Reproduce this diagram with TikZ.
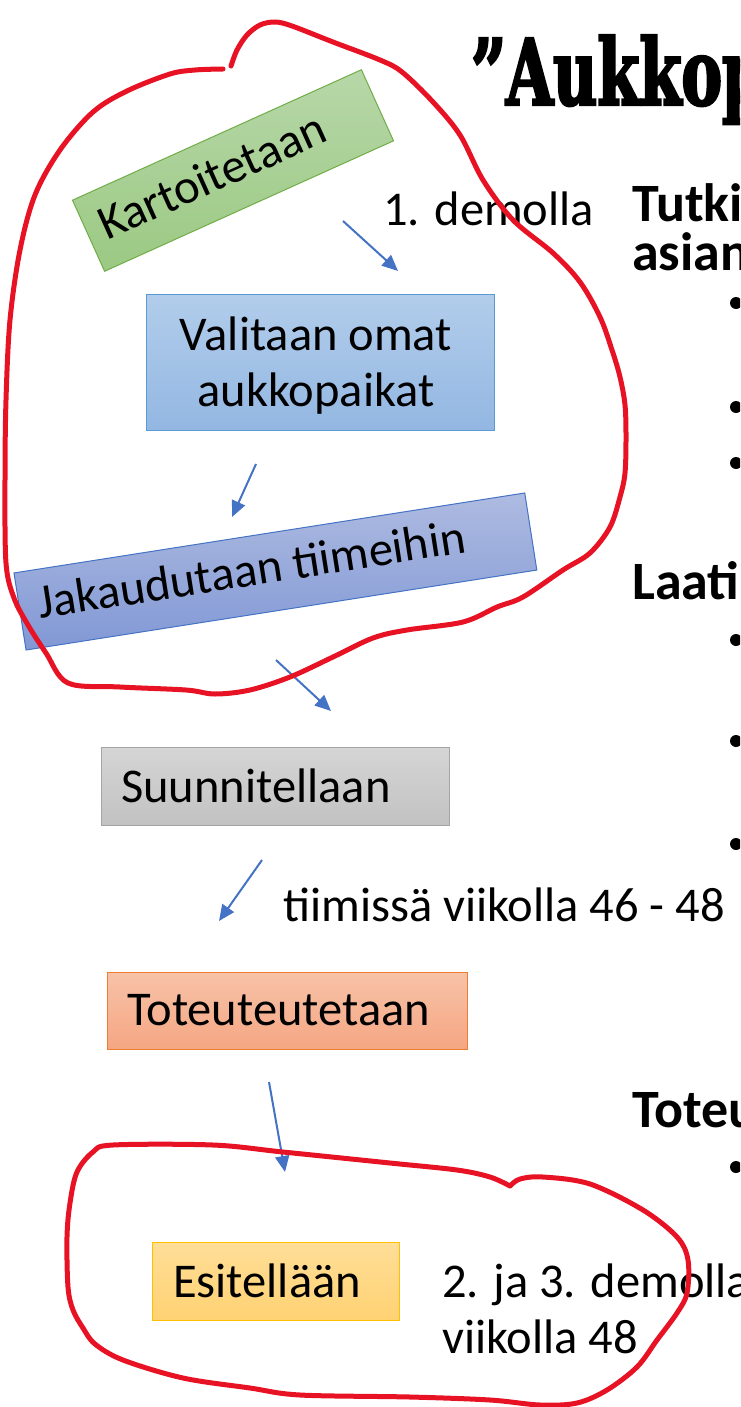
\documentclass[tikz,border=0pt]{standalone}
\usepackage{fontspec}
\setmainfont{Carlito}
\newfontfamily\titlefont{DejaVu Serif}[FakeStretch=0.66,FakeBold=2.5]
\usetikzlibrary{arrows.meta}
\definecolor{inkred}{HTML}{E71224}
\definecolor{arrowblue}{HTML}{4472C4}
\definecolor{gtop}{HTML}{B7D7A8}\definecolor{gbot}{HTML}{9BC983}\definecolor{gline}{HTML}{70AD47}
\definecolor{btop}{HTML}{B2CDEB}\definecolor{bbot}{HTML}{93B7E2}\definecolor{bline}{HTML}{5B9BD5}
\definecolor{ptop}{HTML}{AEBBE1}\definecolor{pbot}{HTML}{8198D5}\definecolor{pline}{HTML}{4472C4}
\definecolor{ktop}{HTML}{D5D5D5}\definecolor{kbot}{HTML}{C2C2C2}\definecolor{kline}{HTML}{A5A5A5}
\definecolor{otop}{HTML}{F7C3A9}\definecolor{obot}{HTML}{F5A682}\definecolor{oline}{HTML}{ED7D31}
\definecolor{ytop}{HTML}{FFDE98}\definecolor{ybot}{HTML}{FFD273}\definecolor{yline}{HTML}{FFC000}
\begin{document}
\begin{tikzpicture}[x=1pt,y=-1pt,
  redink/.style={draw=inkred, line width=5pt, line cap=round, line join=round},
  flow/.style={draw=arrowblue, line width=2pt, -{Triangle[length=16pt,width=14pt]}},
  stepbox/.style={line width=1pt, inner sep=0pt},
  txt/.style={inner sep=0pt, font=\fontsize{48.5}{56}\selectfont},
  headtxt/.style={inner sep=0pt, font=\bfseries\fontsize{54}{40}\selectfont},
  bulletdot/.style={circle, fill=black, inner sep=0pt, minimum size=12pt}
]
\useasboundingbox (0,0) rectangle (740,1407);
\clip (0,0) rectangle (740,1407);

% title and right-side fragments
\node[anchor=base west, inner sep=0pt, font=\titlefont\bfseries\fontsize{92}{100}\selectfont] (title) at (471,105) {”Aukkop};
\node[headtxt, anchor=base west] (h1) at (632,221) {\begin{tabular}[t]{@{}l@{}}Tutki\\asian\end{tabular}};
\node[headtxt, anchor=base west] (h2) at (632,599) {Laati};
\node[headtxt, anchor=base west] (h3) at (632,1127) {Toteu};
\node[bulletdot] (d1) at (736,303) {};
\node[bulletdot] (d2) at (736,407) {};
\node[bulletdot] (d3) at (736,463) {};
\node[bulletdot] (d4) at (736,640) {};
\node[bulletdot] (d5) at (736,741) {};
\node[bulletdot] (d6) at (736,844) {};
\node[bulletdot] (d7) at (736,1167) {};

% boxes
\node[stepbox, draw=gline, top color=gtop, bottom color=gbot, minimum width=317pt, minimum height=78pt, rotate=24.3] (kart) at (233,170.5) {};
\node[txt, rotate=24.3, anchor=base west] (kartT) at (107,241) {Kartoitetaan};

\node[stepbox, draw=bline, top color=btop, bottom color=bbot, minimum width=348pt, minimum height=136pt] (vali) at (320,362) {};
\node[txt, anchor=base] (valiT) at (316,350) {\begin{tabular}[t]{@{}c@{}}Valitaan omat\\aukkopaikat\end{tabular}};

\node[stepbox, draw=pline, top color=ptop, bottom color=pbot, minimum width=517pt, minimum height=78pt, rotate=8.9] (jaka) at (275.4,571.5) {};
\node[txt, rotate=8.9, anchor=base west] (jakaT) at (40,619) {Jakaudutaan tiimeihin};

\node[stepbox, draw=kline, top color=ktop, bottom color=kbot, minimum width=348pt, minimum height=78pt] (suun) at (275,786) {};
\node[txt, anchor=base west] (suunT) at (121,802) {Suunnitellaan};

\node[stepbox, draw=oline, top color=otop, bottom color=obot, minimum width=360pt, minimum height=77pt] (tote) at (287,1010.5) {};
\node[txt, anchor=base west] (toteT) at (127,1025) {Toteuteutetaan};

\node[stepbox, draw=yline, top color=ytop, bottom color=ybot, minimum width=247pt, minimum height=78pt] (esit) at (275.5,1281) {};
\node[txt, anchor=base west] (esitT) at (173,1297) {Esitellään};

% free labels
\node[txt, anchor=base west] (l1) at (383,225) {1. demolla};
\node[txt, anchor=base west] (l2) at (283,921) {tiimissä viikolla 46 - 48};
\node[txt, anchor=base west] (l3) at (442,1297) {\begin{tabular}[t]{@{}l@{}}2. ja 3. demolla\\viikolla 48\end{tabular}};

% arrows
\coordinate (a1s) at (343,221); \coordinate (a1e) at (398,271);
\coordinate (a2s) at (256,464); \coordinate (a2e) at (232,517);
\coordinate (a3s) at (276,660); \coordinate (a3e) at (331,711);
\coordinate (a4s) at (262,860); \coordinate (a4e) at (219,921);
\coordinate (a5s) at (269,1082); \coordinate (a5e) at (285,1172);
\draw[flow] (a1s) -- (a1e);
\draw[flow] (a2s) -- (a2e);
\draw[flow] (a3s) -- (a3e);
\draw[flow] (a4s) -- (a4e);
\draw[flow] (a5s) -- (a5e);

% red freehand loops
\draw[redink] plot[smooth, tension=0.55] coordinates {
 (231,66) (237,50) (247,35) (260,25) (275,22) (292,26) (333,42) (380,60) (402,72)
 (433,102) (460,135) (483,180) (513,220) (553,253) (580,282) (600,317) (612,350)
 (620,377) (625,405) (626,437) (625,473) (620,497) (610,527) (590,553) (563,570)
 (523,597) (497,607) (463,622) (407,630) (373,638) (333,657) (290,677) (250,690)
 (215,694) (186,690) (120,687) (68,683) (46,653) (28,625) (14,598) (6,563) (5,480)
 (6,400) (10,320) (20,250) (35,195) (60,150) (93,112) (127,91) (170,74) (195,70) (223,69)};
\draw[redink] plot[smooth, tension=0.55] coordinates {
 (510,1186) (490,1177) (457,1170) (390,1163) (283,1152) (213,1145) (113,1145) (93,1152)
 (77,1172) (70,1203) (67,1237) (68,1287) (73,1310) (83,1328) (95,1344) (123,1360)
 (183,1378) (250,1388) (300,1395) (410,1397) (490,1400) (540,1405) (577,1403)
 (607,1390) (637,1367) (657,1340) (677,1313) (687,1293) (688,1260) (677,1237)
 (643,1210) (590,1184) (543,1177) (520,1179) (510,1186)};
\end{tikzpicture}
\end{document}
